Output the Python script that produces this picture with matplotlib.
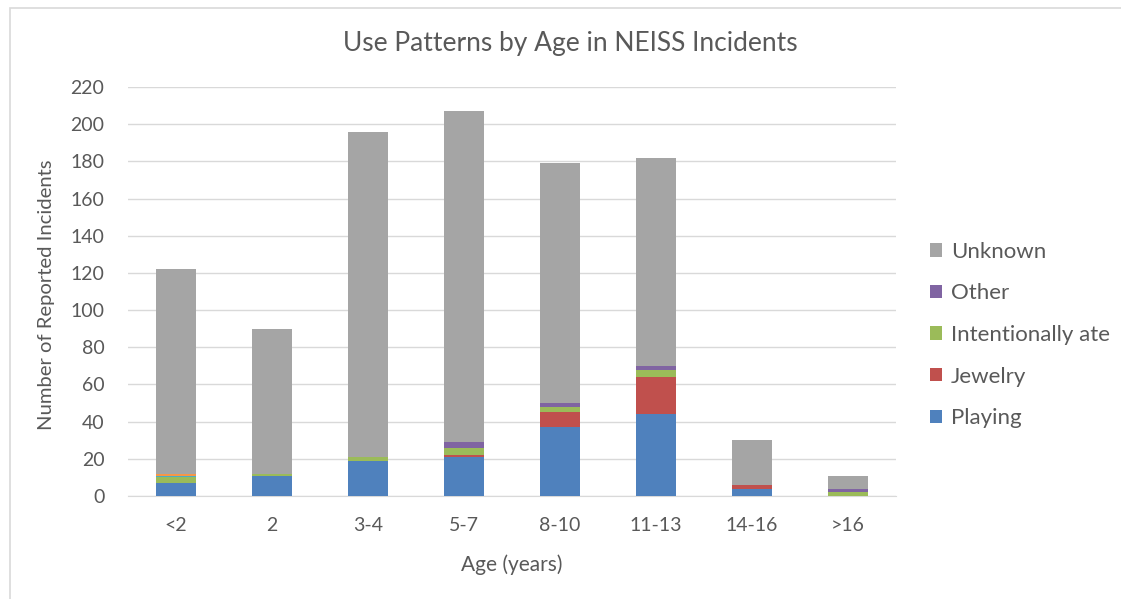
import matplotlib
matplotlib.use("Agg")
import matplotlib.pyplot as plt
import numpy as np
from matplotlib.patches import Rectangle

plt.rcParams['font.family'] = ['Lato', 'DejaVu Sans']

categories = ["<2", "2", "3-4", "5-7", "8-10", "11-13", "14-16", ">16"]
playing = [7, 11, 19, 21, 37, 44, 4, 0]
jewelry = [0, 0, 0, 1, 8, 20, 2, 0]
intentionally_ate = [3, 1, 2, 4, 3, 4, 0, 2]
other = [0, 0, 0, 3, 2, 2, 0, 2]
unlabeled_aqua = [1, 0, 0, 0, 0, 0, 0, 0]
unlabeled_orange = [1, 0, 0, 0, 0, 0, 0, 0]
unknown = [110, 78, 175, 178, 129, 112, 24, 7]

series = [
    ("Playing", playing, "#4F81BD"),
    ("Jewelry", jewelry, "#C0504D"),
    ("Intentionally ate", intentionally_ate, "#9BBB59"),
    ("Other", other, "#8064A2"),
    ("_aqua", unlabeled_aqua, "#4BACC6"),
    ("_orange", unlabeled_orange, "#F79646"),
    ("Unknown", unknown, "#A5A5A5"),
]

W, H = 1121, 599
fig = plt.figure(figsize=(W / 100, H / 100), dpi=100)
ax = fig.add_axes([128 / W, 1 - 496 / H, (896 - 128) / W, (496 - 87) / H])

x = np.arange(len(categories))
bottom = np.zeros(len(categories))
handles = {}
for name, vals, col in series:
    v = np.array(vals, dtype=float)
    b = ax.bar(x, v, bottom=bottom, width=0.42, color=col, label=name, zorder=3)
    handles[name] = b
    bottom += v

ax.set_xlim(-0.5, len(categories) - 0.5)
ax.set_ylim(0, 220)
ax.set_yticks(np.arange(0, 221, 20))
ax.set_xticks(x)
ax.set_xticklabels(categories)
ax.yaxis.grid(True, color="#D9D9D9", linewidth=1, zorder=0)
for s in ["top", "right", "left"]:
    ax.spines[s].set_visible(False)
ax.spines["bottom"].set_color("#D9D9D9")
ax.tick_params(axis="both", length=0, labelsize=14, colors="#595959")
ax.tick_params(axis="y", pad=17)
ax.tick_params(axis="x", pad=15)

fig.text(512 / W, 1 - 565 / H, "Age (years)", ha="center", va="center",
         fontsize=15, color="#595959")
fig.text(47 / W, 1 - 295 / H, "Number of Reported Incidents", ha="center", va="center",
         rotation=90, fontsize=14.6, color="#595959")
fig.text(570 / W, 1 - 43 / H, "Use Patterns by Age in NEISS Incidents", ha="center", va="center",
         fontsize=19, color="#595959")

order = ["Unknown", "Other", "Intentionally ate", "Jewelry", "Playing"]
leg = fig.legend([handles[n] for n in order], order, loc="center left",
                 bbox_to_anchor=(910 / W, 1 - 335 / H), frameon=False, fontsize=16,
                 labelcolor="#595959", handlelength=0.55, handleheight=0.55,
                 labelspacing=0.97, handletextpad=0.4)

fig.patches.append(Rectangle((10 / W, -0.01), 1.1, 1 - 8 / H + 0.01, transform=fig.transFigure,
                             fill=False, edgecolor="#D9D9D9", linewidth=1.2))

fig.savefig("out.png", dpi=100)
